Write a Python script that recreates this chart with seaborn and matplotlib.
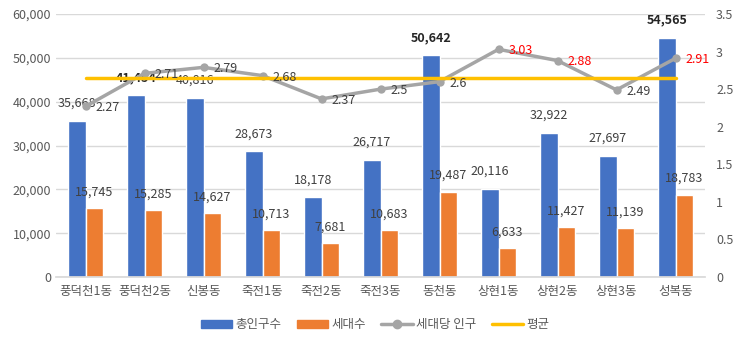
import numpy as np
import pandas as pd
import matplotlib
matplotlib.use("Agg")
import matplotlib.pyplot as plt
import seaborn as sns
from matplotlib.patches import Patch
from matplotlib.lines import Line2D
from matplotlib.ticker import FuncFormatter

categories = ["풍덕천1동", "풍덕천2동", "신봉동", "죽전1동", "죽전2동", "죽전3동",
              "동천동", "상현1동", "상현2동", "상현3동", "성복동"]
total_pop = [35668, 41454, 40816, 28673, 18178, 26717, 50642, 20116, 32922, 27697, 54565]
households = [15745, 15285, 14627, 10713, 7681, 10683, 19487, 6633, 11427, 11139, 18783]
per_household = [2.27, 2.71, 2.79, 2.68, 2.37, 2.5, 2.6, 3.03, 2.88, 2.49, 2.91]
average = 2.65
bold_pop = {"풍덕천2동", "동천동", "성복동"}
red_ratio = {"상현1동", "상현2동", "성복동"}

series_names = ["총인구수", "세대수", "세대당 인구", "평균"]
BLUE, ORANGE, GRAY, YELLOW = "#4472C4", "#ED7D31", "#A5A5A5", "#FFC000"
TXT = "#595959"

sns.set_theme(style="white")
plt.rcParams['font.family'] = ['Noto Sans CJK KR', 'DejaVu Sans']

df = pd.DataFrame({
    "동": categories * 2,
    "값": total_pop + households,
    "구분": [series_names[0]] * len(categories) + [series_names[1]] * len(categories),
})

fig = plt.figure(figsize=(7.43, 3.47), dpi=100)
ax = fig.add_axes([56 / 743, 70 / 347, 649 / 743, 263 / 347])

sns.barplot(data=df, x="동", y="값", hue="구분", palette=[BLUE, ORANGE],
            width=0.58, gap=0, ax=ax, legend=False, saturation=1)
ax.set_xlim(-0.5, len(categories) - 0.5)
ax.set_ylim(0, 60000)
ax.set_yticks(np.arange(0, 60001, 10000))
ax.yaxis.set_major_formatter(FuncFormatter(lambda v, p: f"{int(v):,}"))
ax.set_xlabel("")
ax.set_ylabel("")
ax.tick_params(axis="both", labelsize=9, colors=TXT, length=0)
ax.tick_params(axis="x", pad=6)
ax.grid(axis="y", color="#D9D9D9", linewidth=1)
ax.set_axisbelow(True)
for s in ["top", "right", "left"]:
    ax.spines[s].set_visible(False)
ax.spines["bottom"].set_color("#D9D9D9")

# bar labels
cont_pop, cont_hh = ax.containers[0], ax.containers[1]
for cat, bar, v in zip(categories, cont_pop, total_pop):
    bold = cat in bold_pop
    ax.annotate(f"{v:,}", (bar.get_x() + bar.get_width() / 2, v), xytext=(0, 8),
                textcoords="offset points", ha="center", va="bottom", fontsize=9,
                color="#262626" if bold else "#404040",
                fontweight="bold" if bold else "normal")
for bar, v in zip(cont_hh, households):
    ax.annotate(f"{v:,}", (bar.get_x() + bar.get_width() / 2, v), xytext=(0, 7),
                textcoords="offset points", ha="center", va="bottom", fontsize=9,
                color="#404040")

ax2 = ax.twinx()
xs = np.arange(len(categories))
sns.lineplot(x=xs, y=per_household, ax=ax2, color=GRAY, linewidth=2.5,
             marker="o", markersize=6, markeredgewidth=0, legend=False)
ax2.plot([xs[0], xs[-1]], [average, average], color=YELLOW, linewidth=2.5)
ax2.set_ylim(0, 3.5)
ax2.set_yticks(np.arange(0, 3.51, 0.5))
ax2.yaxis.set_major_formatter(FuncFormatter(lambda v, p: f"{v:g}"))
ax2.tick_params(axis="y", labelsize=9, colors=TXT, length=0, pad=8)
ax2.set_ylabel("")
for s in ax2.spines.values():
    s.set_visible(False)
ax2.set_xlim(-0.5, len(categories) - 0.5)

for cat, x, v in zip(categories, xs, per_household):
    ax2.annotate(f"{v:g}", (x, v), xytext=(7, -1), textcoords="offset points",
                 ha="left", va="center", fontsize=9,
                 color="#FF0000" if cat in red_ratio else "#404040")

handles = [Patch(color=BLUE), Patch(color=ORANGE),
           Line2D([], [], color=GRAY, linewidth=2.5, marker="o", markersize=6),
           Line2D([], [], color=YELLOW, linewidth=2.5)]
fig.legend(handles, series_names, loc="center", bbox_to_anchor=(0.505, 0.065),
           ncol=4, frameon=False, fontsize=9, labelcolor=TXT,
           handlelength=2.5, handleheight=0.6, columnspacing=1.2, handletextpad=0.3)

fig.savefig("out.png", dpi=100)
